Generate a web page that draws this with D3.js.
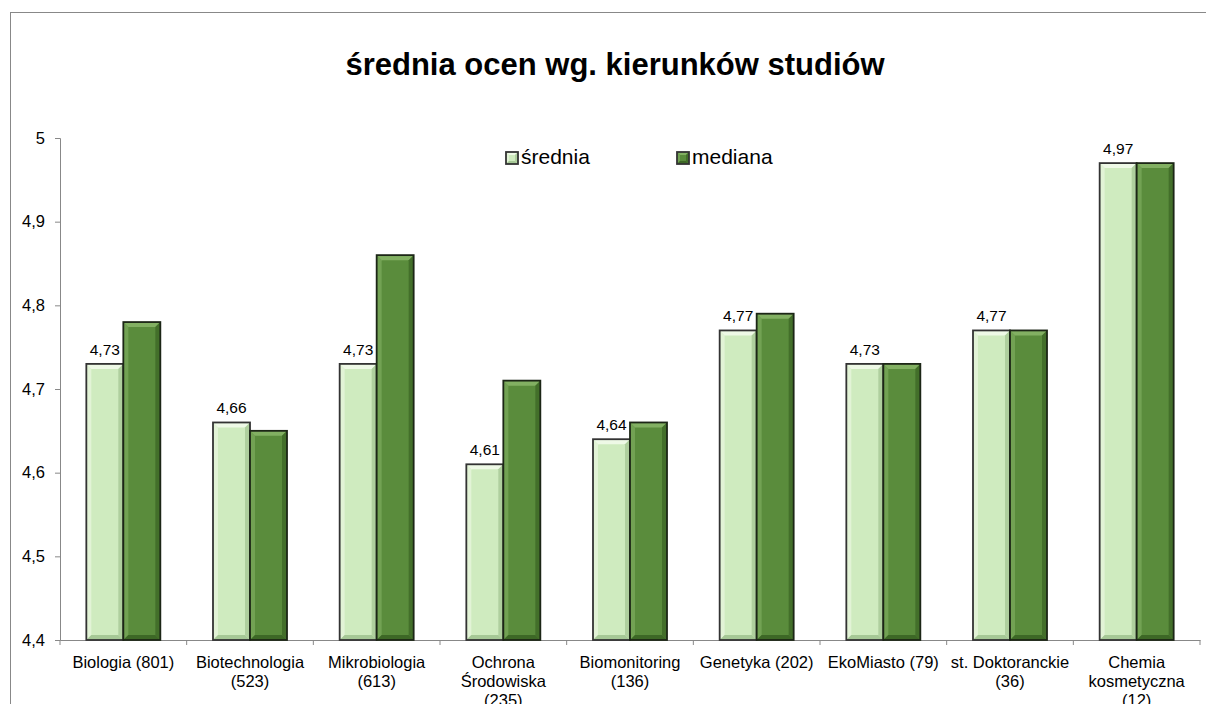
<!DOCTYPE html>
<html><head><meta charset="utf-8">
<script src="https://cdn.jsdelivr.net/npm/d3@7"></script>
<style>body{margin:0;background:#fff}svg{display:block}text{font-family:"Liberation Sans",Arial,sans-serif}</style>
</head><body>
<script>
const categories = [["Biologia (801)"],["Biotechnologia","(523)"],["Mikrobiologia","(613)"],["Ochrona","Środowiska","(235)"],["Biomonitoring","(136)"],["Genetyka (202)"],["EkoMiasto (79)"],["st. Doktoranckie","(36)"],["Chemia","kosmetyczna","(12)"]];
const srednia = [4.73,4.66,4.73,4.61,4.64,4.77,4.73,4.77,4.97];
const mediana = [4.78,4.65,4.86,4.71,4.66,4.79,4.73,4.77,4.97];
const yTicks = [4.4,4.5,4.6,4.7,4.8,4.9,5];
const seriesNames = ["średnia","mediana"];

const W=1206,H=704;
const svg=d3.select("body").append("svg").attr("width",W).attr("height",H);
svg.append("rect").attr("x",10.5).attr("y",12.5).attr("width",1300).attr("height",800).attr("fill","#fff").attr("stroke","#888").attr("stroke-width",1);

svg.append("text").attr("x",615).attr("y",75).attr("text-anchor","middle").attr("font-size",31).attr("font-weight","bold").text("średnia ocen wg. kierunków studiów");

const x=d3.scaleBand().domain(d3.range(categories.length)).range([60,1200]);
const y=d3.scaleLinear().domain([4.4,5]).range([640,138]);
const barW=37;
const colors=[{base:"#cfebbf",hi:"#eef9e6",lo:"#a6c896",stroke:"#333"},{base:"#5a8c3c",hi:"#82b062",lo:"#3d6826",stroke:"#1c2616"}];

// axes
const yAxis=svg.append("g").attr("transform","translate(60,0)").call(d3.axisLeft(y).tickValues(yTicks).tickSize(5).tickFormat(d=>d3.format(".1~f")(d).replace(".",",")));
yAxis.select(".domain").attr("stroke","#888");
yAxis.selectAll(".tick line").attr("stroke","#888");
yAxis.selectAll("text").attr("font-size",16.5).attr("fill","#000").attr("dx",-7).style("font-family","Liberation Sans, Arial, sans-serif");

const xAxis=svg.append("g").attr("transform","translate(0,640)").call(d3.axisBottom(x).tickSize(0).tickFormat(""));
xAxis.select(".domain").attr("stroke","#888");
svg.append("g").selectAll("line").data(d3.range(categories.length+1)).join("line")
  .attr("x1",i=>60+i*x.step()).attr("x2",i=>60+i*x.step()).attr("y1",640).attr("y2",645).attr("stroke","#888");

function bevelBar(g,x0,y0,w,h,c,bv){
  const b=Math.min(bv||5,h/2);
  g.append("rect").attr("x",x0).attr("y",y0).attr("width",w).attr("height",h).attr("fill",c.base);
  const pts=(a)=>a.map(p=>p.join(",")).join(" ");
  g.append("polygon").attr("points",pts([[x0,y0],[x0+w,y0],[x0+w-b,y0+b],[x0+b,y0+b]])).attr("fill",c.hi);
  g.append("polygon").attr("points",pts([[x0,y0],[x0+b,y0+b],[x0+b,y0+h-b],[x0,y0+h]])).attr("fill",c.hi).attr("opacity",0.6);
  g.append("polygon").attr("points",pts([[x0+w,y0],[x0+w,y0+h],[x0+w-b,y0+h-b],[x0+w-b,y0+b]])).attr("fill",c.lo).attr("opacity",0.8);
  g.append("polygon").attr("points",pts([[x0,y0+h],[x0+w,y0+h],[x0+w-b,y0+h-b],[x0+b,y0+h-b]])).attr("fill",c.lo);
  g.append("rect").attr("x",x0).attr("y",y0).attr("width",w).attr("height",h).attr("fill","none").attr("stroke",c.stroke).attr("stroke-width",1.8);
}

const bars=svg.append("g");
[srednia,mediana].forEach((vals,s)=>{
  vals.forEach((v,i)=>{
    const cx=x(i)+x.bandwidth()/2;
    const x0=cx-barW+s*barW;
    bevelBar(bars,x0,y(v),barW,640-y(v),colors[s]);
  });
});

// data labels for srednia
svg.append("g").selectAll("text").data(srednia).join("text")
  .attr("x",(d,i)=>x(i)+x.bandwidth()/2-barW/2).attr("y",d=>y(d)-9)
  .attr("text-anchor","middle").attr("font-size",15.5).text(d=>d3.format(".2f")(d).replace(".",","));

// category labels
const cl=svg.append("g");
categories.forEach((lines,i)=>{
  const t=cl.append("text").attr("x",x(i)+x.bandwidth()/2).attr("y",668).attr("text-anchor","middle").attr("font-size",16.5);
  lines.forEach((l,k)=>t.append("tspan").attr("x",x(i)+x.bandwidth()/2).attr("dy",k?19:0).text(l));
});

// legend
const lg=svg.append("g");
const legPos=[506,677];
seriesNames.forEach((n,s)=>{
  bevelBar(lg,legPos[s],152,12,12,Object.assign({},colors[s],{stroke:"#333"}),3);
  lg.append("text").attr("x",legPos[s]+15).attr("y",164).attr("font-size",21).text(n);
});
</script>
</body></html>
